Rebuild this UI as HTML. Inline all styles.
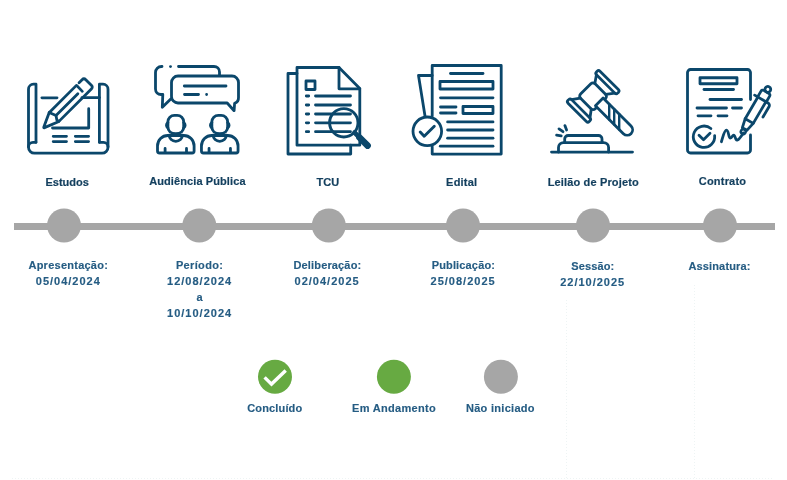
<!DOCTYPE html>
<html><head><meta charset="utf-8">
<style>
html,body{margin:0;padding:0;background:#fff;width:787px;height:480px;overflow:hidden}
svg{position:absolute;left:0;top:0;display:block;will-change:transform}
text{font-family:"Liberation Sans",sans-serif;font-weight:bold;font-size:11px}
.t{fill:#133f5e;stroke:#133f5e;stroke-width:0.2}
.d{fill:#255c83;stroke:#255c83;stroke-width:0.15}
.i{fill:none;stroke:#0b476b;stroke-width:2.8;stroke-linecap:round;stroke-linejoin:round}
</style></head>
<body>
<svg width="787" height="480" viewBox="0 0 787 480">
<g class="i">
<path d="M36 142.3 V84.2 H33.5 A5 5 0 0 0 28.5 89.2 V147.2 A6 6 0 0 0 34.5 153.2 H102 A6 6 0 0 0 108 147.2 V89.2 A5 5 0 0 0 103 84.2 H99.4 V142.3"/>
<path d="M36 142.3 H33 A4.5 4.5 0 0 0 28.5 146.8"/>
<path d="M99.4 142.3 H103.5 A4.5 4.5 0 0 1 108 146.8"/>
<path d="M41.9 97.8 H57"/>
<path d="M82 97.6 H99.4"/>
<path d="M52.5 128 H88.7 V108.7"/>
<path d="M53.2 136.3 H66.5 M75.3 136.3 H88.6 M53.2 141.6 H66.5 M75.3 141.6 H88.6"/>
<path d="M82.31 91.36 L76.85 85.64 Q76.51 85.28 76.16 85.63 L49.57 112.22 Q49.21 112.57 49.04 113.04 L43.84 127 Q43.42 128.13 44.52 127.65 L58.37 121.68 Q58.83 121.48 59.18 121.13 L91.36 88.95 Q93.2 87.12 91.36 85.28 L85.77 79.69 Q83.93 77.85 82.1 79.69 L79.05 82.73"/>
<path d="M49.21 112.57 L56 115.54 L56.85 119.93 L58.83 121.48"/>
<path d="M77.85 93.69 L56 115.54"/>
</g>
<g class="i">
<path d="M162 66.5 H161.5 A6 6 0 0 0 155.5 72.5 V89 A5.5 5.5 0 0 0 161 94.5 H162.8 L162.3 107.3 L171.3 98.4"/>
<path d="M170.5 66.6 L170.5 66.6"/>
<path d="M178.5 66.5 H214 A5.5 5.5 0 0 1 219.5 72 V75.5"/>
<path d="M178 76 H232 A6.5 6.5 0 0 1 238.5 82.5 V97.5 A6 6 0 0 1 234.6 103.4 L234.1 110.7 L227.2 103 H178 A6.5 6.5 0 0 1 171.5 96.5 V82.5 A6.5 6.5 0 0 1 178 76 Z"/>
<path d="M184.3 86 H226"/>
<path d="M184.5 94.5 H198.5 M206.6 94.5 L206.6 94.5"/>
<path d="M167.9 127 V121.8 A6.5 6.5 0 0 1 174.4 115.3 H177.2 A6.5 6.5 0 0 1 183.7 121.8 V127 C183.7 131.2 180.6 133.7 175.8 133.7 C171 133.7 167.9 131.2 167.9 127 Z"/>
<path d="M167.9 122.6 Q165 125.3 167.9 128 M183.7 122.6 Q186.6 125.3 183.7 128"/>
<path d="M183.8 135.5 H167.8 A10.3 10.5 0 0 0 157.5 146 V151 A2 2 0 0 0 159.5 153 H192.1 A2 2 0 0 0 194.1 151 V146 A10.3 10.5 0 0 0 183.8 135.5 Z"/>
<path d="M169.2 135.2 A6.6 6.1 0 0 0 182.4 135.2"/>
<path d="M165.1 148.4 V152.4 M186.5 148.4 V152.4"/>
<path d="M211.85 127 V121.8 A6.5 6.5 0 0 1 218.35 115.3 H221.15 A6.5 6.5 0 0 1 227.65 121.8 V127 C227.65 131.2 224.55 133.7 219.75 133.7 C214.95 133.7 211.85 131.2 211.85 127 Z"/>
<path d="M211.85 122.6 Q208.95 125.3 211.85 128 M227.65 122.6 Q230.55 125.3 227.65 128"/>
<path d="M227.75 135.5 H211.75 A10.3 10.5 0 0 0 201.45 146 V151 A2 2 0 0 0 203.45 153 H236.05 A2 2 0 0 0 238.05 151 V146 A10.3 10.5 0 0 0 227.75 135.5 Z"/>
<path d="M213.15 135.2 A6.6 6.1 0 0 0 226.35 135.2"/>
<path d="M209.05 148.4 V152.4 M230.45 148.4 V152.4"/>
</g>
<g class="i">
<path d="M297 73.5 H288 V154 H350.7 V145.2"/>
<path d="M339 67.5 H297 V145.2 H359.8 V88.5 Z"/>
<path d="M339 67.5 V88.8 H359.8"/>
<path d="M306 81 H315 V89.5 H306 Z"/>
<path d="M306.3 96 H308.7 M315.5 96 H350.5"/>
<path d="M306.3 105 H308.7 M315.5 105 H350.5"/>
<path d="M306.3 114 H308.7 M315.5 114 H350.5"/>
<path d="M306.3 122.8 H308.7 M315.5 122.8 H350.5"/>
<path d="M306.3 131.7 H308.7 M315.5 131.7 H350.5"/>
<circle cx="343.8" cy="122.8" r="14.2" fill="#fff" fill-opacity="0" stroke-width="2.9"/>
<path d="M354.5 132.5 L361 139" stroke-width="4.6"/>
<path d="M359.5 137.5 L367.6 145.6" stroke-width="6.6"/>
</g>
<g class="i">
<path d="M432.2 116 V65.5 H501.2 V154.1 H432.2 V146.5"/>
<path d="M432.2 75.5 H418.5 L425 116"/>
<path d="M450.5 73.5 H483"/>
<path d="M440 81.5 H493 V89 H440 Z"/>
<path d="M440.5 97.8 H493"/>
<path d="M440.5 107 H456 M440.5 113 H456"/>
<path d="M463 106.5 H493 V113.5 H463 Z"/>
<path d="M447.6 121.9 H493"/>
<path d="M447.6 130 H493"/>
<path d="M447.6 138.2 H493"/>
<path d="M440.3 146.2 H493"/>
<circle cx="427.3" cy="131.3" r="14.3" stroke-width="2.8"/>
<path d="M420.2 132 L424.2 136.3 L434.3 126.2" stroke-width="2.9"/>
</g>
<g class="i">
<g transform="rotate(-45)">
<path d="M341 480 A3 3 0 0 1 344 477 H358.6 A3 3 0 0 1 361.6 480 V494.8 A3 3 0 0 1 358.6 497.8 H344 A3 3 0 0 1 341 494.8 Z"/>
<path d="M368.9 474.6 A2 2 0 0 1 370.9 472.6 H371.9 A2 2 0 0 1 373.9 474.6 V500.6 A2 2 0 0 1 371.9 502.6 H370.9 A2 2 0 0 1 368.9 500.6 Z"/>
<path d="M328.7 474.6 A2 2 0 0 1 330.7 472.6 H331.7 A2 2 0 0 1 333.7 474.6 V500.6 A2 2 0 0 1 331.7 502.6 H330.7 A2 2 0 0 1 328.7 500.6 Z"/>
<path d="M368.9 474.6 L361.6 479.6 M368.9 500.6 L361.6 495.2"/>
<path d="M333.7 474.6 L341 479.6 M333.7 500.6 L341 495.2"/>
<path d="M346.3 495.8 H357.1 V535.3 A5.4 5.4 0 0 1 346.3 535.3 Z" fill="#fff"/>
</g>
<path d="M609.2 104.2 V119.5" stroke-width="2.4"/>
<path d="M614.2 109.2 V124.5" stroke-width="2.4"/>
<path d="M619.2 114.2 V129.5" stroke-width="2.4"/>
<path d="M551.5 152.1 H632.5"/>
<path d="M558.5 152.1 V147.6 A5 5 0 0 1 563.5 142.6 H603.6 A5 5 0 0 1 608.6 147.6 V152.1"/>
<path d="M564.7 142.6 V139 A3.5 3.5 0 0 1 568.2 135.5 H598.5 A3.5 3.5 0 0 1 602 139 V142.6"/>
<path d="M556.6 135.2 L561.2 135.9 M559 128.9 L563 131.7 M564.9 125.6 L566.6 130"/>
</g>
<g class="i">
<path d="M750.5 99.5 V72.5 A3 3 0 0 0 747.5 69.5 H690.5 A3 3 0 0 0 687.5 72.5 V150 A3 3 0 0 0 690.5 153 H747.5 A3 3 0 0 0 750.5 150 V135"/>
<path d="M700 77.75 H737 V83.75 H700 Z"/>
<path d="M704 89.5 H733.5"/>
<path d="M710 99.5 H741.5"/>
<path d="M697 108 H726.5 M732.5 108 H741.5"/>
<path d="M698 115.8 H711 M718 115.8 H727"/>
<path d="M714.64 135.63 A10.7 10.7 0 1 1 710.88 128.55" stroke-width="2.8"/>
<path d="M699 135.3 L703.5 139.8 L710 133.3" stroke-width="2.8"/>
<path d="M721.4 141.7 C723 137 724.3 130 726.5 130.2 C728.8 130.4 728.5 138.5 730.5 138 C732 137.6 732.6 134.6 734 135.2 C735.3 135.8 735.4 140.8 737.5 140 C739.3 139.3 741 136.5 743.3 133"/>
<g transform="translate(767.67 89.67) rotate(30.37)">
<circle cx="0" cy="-0.3" r="2.9"/>
<path d="M-5 11.3 V4.6 A2 2 0 0 1 -3 2.6 H3 A2 2 0 0 1 5 4.6 V11.3"/>
<path d="M-8.5 11.3 H7 A2.8 2.8 0 0 1 9.8 14.1 V26"/>
<path d="M-4.7 11.3 V36.4 M4.6 11.3 V36.4 M-4.7 36.4 H4.6"/>
<path d="M-4.7 36.4 L-2.6 45.6 M4.6 36.4 L2.6 45.6 M-2.6 45.6 H2.6"/>
<circle cx="0.2" cy="48.6" r="2.4" stroke-width="2.5"/>
</g>
</g>
<rect x="14" y="223" width="761" height="7" fill="#a6a6a6"/>
<circle cx="64" cy="225.5" r="17" fill="#a6a6a6"/>
<circle cx="199.3" cy="225.5" r="17" fill="#a6a6a6"/>
<circle cx="328.8" cy="225.5" r="17" fill="#a6a6a6"/>
<circle cx="463" cy="225.5" r="17" fill="#a6a6a6"/>
<circle cx="593" cy="225.5" r="17" fill="#a6a6a6"/>
<circle cx="720" cy="225.5" r="17" fill="#a6a6a6"/>
<circle cx="275" cy="376.8" r="17" fill="#67aa42"/>
<path d="M264.6 377.4 L271.5 384.1 L285.7 370.6" fill="none" stroke="#fff" stroke-width="3.4" stroke-linecap="butt" stroke-linejoin="miter"/>
<circle cx="393.9" cy="376.7" r="17" fill="#67aa42"/>
<circle cx="500.9" cy="376.7" r="17" fill="#a6a6a6"/>
<path d="M12 478.5 H773 M566.5 300 V478 M694.5 285 V478" stroke="#eef4f4" stroke-width="1" stroke-dasharray="1 2" fill="none"/>
<text x="67.2" y="185.8" text-anchor="middle" class="t">Estudos</text>
<text x="197.4" y="184.7" text-anchor="middle" class="t" letter-spacing="0.1">Audiência Pública</text>
<text x="327.8" y="186" text-anchor="middle" class="t">TCU</text>
<text x="461.7" y="185.7" text-anchor="middle" class="t" letter-spacing="0.2">Edital</text>
<text x="593.3" y="185.6" text-anchor="middle" class="t" letter-spacing="0.15">Leilão de Projeto</text>
<text x="722.5" y="184.8" text-anchor="middle" class="t" letter-spacing="0.2">Contrato</text>
<text x="68.3" y="269.1" text-anchor="middle" class="d" letter-spacing="0.25">Apresentação:</text>
<text x="68.3" y="284.6" text-anchor="middle" class="d" letter-spacing="1.0">05/04/2024</text>
<text x="199.6" y="268.7" text-anchor="middle" class="d" letter-spacing="0.35">Período:</text>
<text x="199.6" y="285" text-anchor="middle" class="d" letter-spacing="1.0">12/08/2024</text>
<text x="199.6" y="300.8" text-anchor="middle" class="d">a</text>
<text x="199.6" y="317" text-anchor="middle" class="d" letter-spacing="1.0">10/10/2024</text>
<text x="327.4" y="269" text-anchor="middle" class="d" letter-spacing="0.15">Deliberação:</text>
<text x="327.1" y="284.8" text-anchor="middle" class="d" letter-spacing="1.0">02/04/2025</text>
<text x="463.4" y="269" text-anchor="middle" class="d" letter-spacing="0.15">Publicação:</text>
<text x="463.1" y="285" text-anchor="middle" class="d" letter-spacing="1.0">25/08/2025</text>
<text x="592.8" y="270.1" text-anchor="middle" class="d" letter-spacing="0.15">Sessão:</text>
<text x="592.7" y="285.6" text-anchor="middle" class="d" letter-spacing="1.0">22/10/2025</text>
<text x="719.5" y="270" text-anchor="middle" class="d" letter-spacing="0.15">Assinatura:</text>
<text x="274.8" y="411.9" text-anchor="middle" class="d" letter-spacing="0.15">Concluído</text>
<text x="394" y="411.8" text-anchor="middle" class="d" letter-spacing="0.3">Em Andamento</text>
<text x="500.4" y="411.8" text-anchor="middle" class="d" letter-spacing="0.3">Não iniciado</text>
</svg>
</body></html>
